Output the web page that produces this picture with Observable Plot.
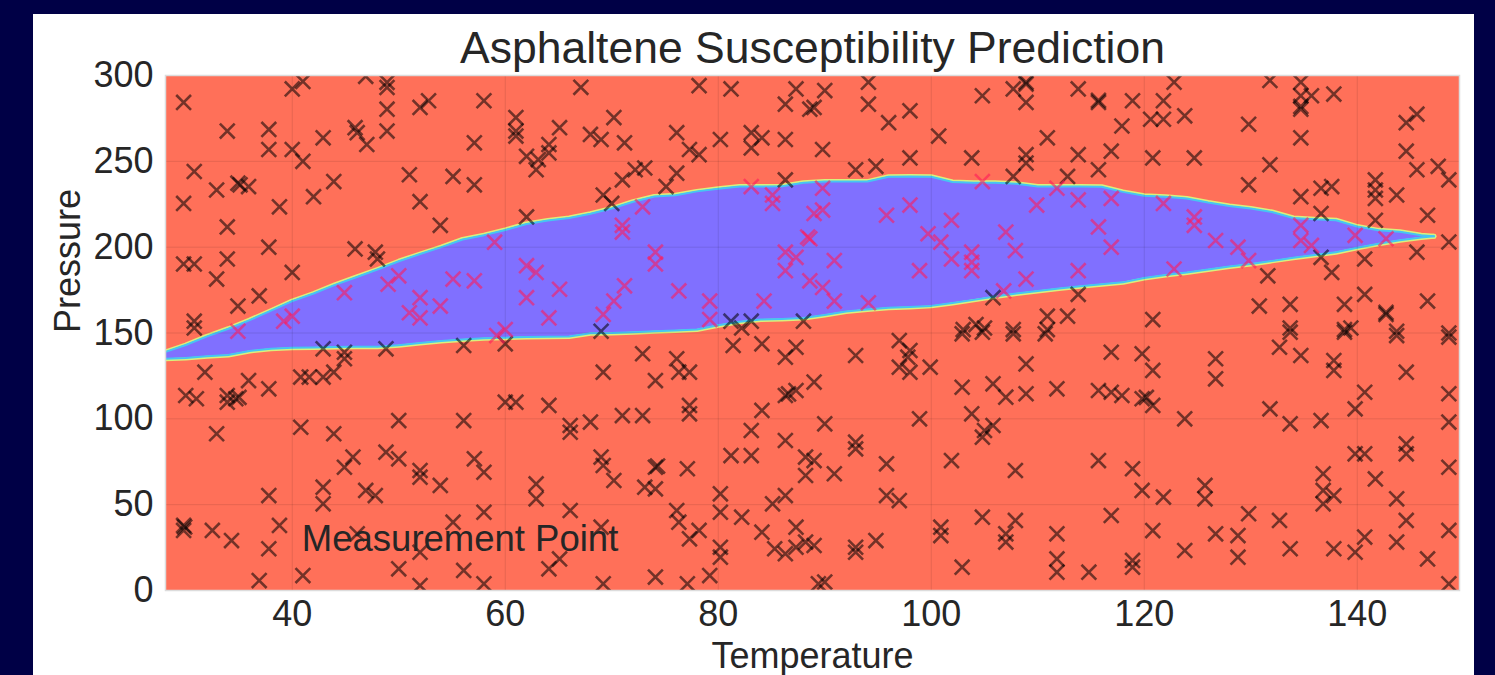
<!DOCTYPE html>
<html>
<head>
<meta charset="utf-8">
<script src="https://cdn.jsdelivr.net/npm/d3@7"></script>
<script src="https://cdn.jsdelivr.net/npm/@observablehq/plot@0.6"></script>
<style>
  html, body { margin: 0; padding: 0; background: #000046; width: 1495px; height: 675px; overflow: hidden; }
  #panel { position: absolute; left: 33px; top: 14px; width: 1441px; height: 661px; background: #ffffff; overflow: hidden; }
</style>
</head>
<body>
<div id="panel"></div>
<script>
const chartTitle = "Asphaltene Susceptibility Prediction";
const xLabel = "Temperature";
const yLabel = "Pressure";
const xTicks = [40, 60, 80, 100, 120, 140];
const yTicks = [0, 50, 100, 150, 200, 250, 300];
const xDomain = [28.1, 149.6];
const yDomain = [0, 300];

// decision boundary of the predicted "susceptible" region (temperature, upper pressure, lower pressure)
const boundaryT = [28.1,30,32,34,36,38,40,42,44,46,48,50,52,54,56,58,60,62,64,66,68,70,72,74,76,78,80,82,84,86,88,90,92,94,96,98,100,102,104,106,108,110,112,114,116,118,120,122,124,126,128,130,132,134,136,138,140,142,144,146,147.2];
const upperP = [139,143,148,152.5,157.5,163,168.6,173,178,182.5,187,191.8,196,200,204.5,207,210,213.5,215.5,217,219.5,222.5,226.5,229.5,230.2,232.5,234,235.3,235.3,235.5,237.5,238.2,238.2,238.2,241,241.2,241,238,237.5,237.5,237,235.3,235.3,235.3,235.2,232.2,230,229.4,228.4,226,224,222.5,220.5,217,216.2,215.7,212,209.8,209,207,206.3];
const lowerP = [135,135.5,136.4,137.2,139.5,140.8,141.4,141.6,141.8,142,142,142.8,144.2,145.4,146.2,147,147.3,147.6,147.8,148,149.8,150,150.5,151,151.5,152,154.5,156.5,157.8,158.2,158.7,160.5,162.5,163.7,164.7,165.2,165.8,167.5,169.3,171.3,173,174.5,175.9,177.2,178.4,179.5,182,183.8,185.2,187,188.7,190.2,192,193.8,195.4,197,199.6,202,204,205.6,206.3];

// measurement points outside the region [temperature, pressure]
const outsidePoints = [
[29.8,284.3],[40,292.2],[41,296.5],[46.9,299.5],[48.9,296],[48.9,293],[48.9,280.4],[48.9,267.6],[52,281.4],[52.8,285.3],[58,285.3],[67.1,293.1],[78.2,294.1],[81.2,292.2],[87.3,292.2],[86.3,283.3],[88.6,280.4],
[33.9,267.6],[37.8,268.6],[37.8,256.9],[40,256.9],[41,250],[42.9,263.7],[45.9,269.6],[46.1,266.7],[47,259.8],[57.1,260.8],[61,275.5],[61,267.6],[61,264.7],[65.1,269.6],[70.2,275.5],[68,265.7],[69,262.7],[71.2,260.8],[62,252.9],[63.1,251],[64.1,259.8],[64.1,254.9],[62.9,245.1],[76.1,266.7],[77.3,256.9],[78.2,253.9],[80.2,262.7],[83.1,266.7],[83.1,257.8],[84.1,263.7],[86.3,262.7],
[30.8,244.1],[32.9,233.3],[35.1,236.3],[35.9,235.3],[34.9,237.3],[29.8,225.5],[33.9,211.8],[38.8,223.5],[42,229.4],[43.9,238.2],[51,242.2],[52,226.5],[55.1,241.2],[57.1,236.3],[53.9,212.7],[62,217.6],[69.2,230.4],[70,225.5],[71,239.2],[72.2,245.1],[73.1,246.1],[76.1,243.1],[75.1,235.3],[86.3,239.2],
[37.8,200],[29.8,190.2],[30.8,190.2],[33.9,193.1],[32.9,181.4],[40,185.3],[36.9,171.6],[34.9,165.7],[30.8,156.9],[30.8,152.9],[45.9,199],[47.8,197.1],[48,193.1],
[81.2,156.9],[82.2,152.9],[83.1,156.9],[88,156.9],[69,151],
[90,291.2],[89,281.4],[94.1,296.1],[94.1,283.3],[96,272.5],[98,279.4],[104.8,288.2],[107.7,292.2],[108.9,296.1],[108.9,295],[108.9,284.3],[113.8,292.2],[115.7,284.3],[115.7,285.5],[118.9,285.3],[121.8,285.3],[122.8,296.1],[120.6,274.5],[121.8,274.5],[123.8,276.5],[117.9,270.6],[129.8,271.6],[131.8,297.1],[134.7,296.1],[134.7,288.2],[134.7,280.4],[134.7,282],[135.7,288.2],[137.8,289.2],[134.7,263.7],[144.6,272.5],[145.6,277.5],[144.6,255.9],[145.6,245.1],[147.6,247.1],[148.6,239.2],
[89.8,256.9],[92.9,245.1],[94.8,247.1],[98,252],[100.7,264.7],[103.8,252],[107.7,241.2],[108.9,253.9],[108.9,249],[110.9,263.7],[112.8,241.2],[113.8,253.9],[115.7,245.1],[116.9,255.9],[120.8,252],[124.7,252],[131.8,248],[129.8,236.3],[134.7,229.4],[136.6,234.3],[137.6,235.3],[141.7,239.2],[141.7,233.3],[141.7,228.4],[143.7,230.4],[146.6,218.6],[141.7,215.7],[136.6,219.6],
[113.8,172.5],[110.9,159.8],[112.8,159.8],[110.9,152],[107.7,152],[103,152],[104.2,154.9],[105,152.9],[120.8,157.8],[130.8,165.7],[133.7,166.7],[131.6,183.3],[133.7,152.9],[136.6,194.1],[137.6,185.3],[138.8,166.7],[140.7,172.5],[140.7,193.1],[142.7,160.8],[142.7,162],[145.6,197.1],[146.6,168.6],[148.6,203],[138.8,152],[139.4,152.9],[143.7,151],[148.6,150],[105.8,170.6],
[42.9,140.8],[44.9,138.8],[44.9,135],[48.8,140.8],[56.1,142.7],[60,143.7],[31.8,127.2],[30,113.6],[31,111.7],[33.9,113.6],[34.7,111.7],[35,112.5],[33.9,109.7],[35.9,122.3],[37.8,117.5],[40.8,124.3],[41.6,124.3],[42.9,124.3],[43.9,127.2],[32.9,91.3],[40.8,95.1],[43.9,91.3],[50,99],[56.1,99],[69.2,127.2],[72.9,137.9],[74.1,122.3],[76.1,135],[76.3,127.2],[77.3,127.2],[60,109.7],[61,109.7],[64.1,107.8],[71,101.9],[72.9,101.9],[77.3,107.8],[77.3,102.9],[66.1,96.1],[66.1,92.2],[68,98.1],[81.4,142.7],[84.1,143.7],[86.3,135.9],[87.3,141.7],[86.3,113.6],[86.6,114.5],[87.3,116.5],[84.1,104.9],[83.1,93.2],[86.3,87.4],[81.2,78.6],[83.1,78.6],[88.2,77.7],[88.2,67],
[45.7,77.7],[44.9,71.8],[48.8,80.6],[50,76.7],[52,69.9],[52,66],[53.9,61.2],[57.1,76.7],[58,68.9],[69,77.7],[69.2,72.8],[70.2,64.1],[74.1,71.8],[74.3,72.5],[73.1,60.2],[74.1,59.2],[77.1,70.9],[37.8,55.3],[42.9,60.2],[42.9,50.5],[46.9,58.3],[47.8,55.3],[62.9,62.1],[62.9,53.4],[58,45.6],[66.1,46.6],[80.2,56.3],[80.2,45.6],[82.2,42.7],[76.1,46.6],[76.3,39.8],[78.2,35],[77.3,30.1],[85.1,50.5],[86.3,55.3],[84.1,34],[87.3,36.9],[88.2,28.2],[85.3,24.3],[86.3,21.4],[87.3,25.2],[80.2,25.2],[80.2,19.4],[79.2,8.7],[77.1,3.9],[74.1,7.8],[69.2,3.9],[69,36.9],[64.1,12.6],[65.1,18.4],[56.1,11.7],[58,3.9],[52,2.9],[50,12.6],[52,22.3],[55.1,39.8],[46.1,33],[41,8.7],[36.9,5.8],[37.8,24.3],[38.8,37.9],[29.8,37.9],[29.9,37],[29.8,35],[32.5,35],[34.3,29.1],
[97,145.6],[98,139.8],[97.8,135.9],[97,130.1],[98,127.2],[99.9,130.1],[92.9,136.9],[89,121.4],[102.9,149.5],[104.8,150.5],[107.7,149.5],[110.7,149.5],[108.9,132],[102.9,118.4],[105.8,120.4],[107,112.6],[108.9,114.6],[111.8,117.5],[115.7,116.5],[116.9,115.5],[117.9,113.6],[119.8,111.7],[120.2,112.5],[120.8,107.8],[116.9,138.8],[119.8,137.9],[120.8,128.2],[126.7,135],[126.7,123.3],[123.8,100],[132.7,141.7],[134.7,136.9],[133.7,150.5],[137.8,134],[137.8,128.2],[138.8,150.5],[143.7,148.5],[148.6,147.6],[144.6,127.2],[140.7,115.5],[139.8,105.8],[148.6,114.6],[131.8,105.8],[133.7,97.1],[136.6,99],[148.6,98.1],[90,97.1],[98.9,100],[103.8,102.9],[105,93.2],[105.8,96.1],[104.8,89.3],[92.9,86.4],[92.9,82.5],[89,75.7],
[90.9,68],[95.8,73.8],[101.9,75.7],[107.9,69.9],[115.7,75.7],[118.9,70.9],[119.8,58.3],[121.8,54.4],[125.7,61.2],[125.7,53.4],[95.8,55.3],[97,52.4],[139.8,79.6],[140.7,79.6],[144.6,85.4],[144.6,79.6],[148.6,71.8],[141.7,65],[136.8,68],[136.8,58.3],[137.8,55.3],[136.8,50.5],[143.7,53.4],[144.6,40.8],[148.6,35],[140.7,31.1],[143.7,28.2],[137.8,24.3],[139.8,22.3],[146.6,18.4],[133.7,24.3],[132.7,40.8],[129.8,44.7],[128.8,32],[128.8,19.4],[126.7,33],[123.8,23.3],[120.8,34.9],[116.9,43.7],[118.9,17.5],[118.9,13.6],[114.8,10.7],[111.8,33],[111.8,18.4],[111.8,10.7],[107.9,40.8],[107,33],[107,28.2],[104.8,42.7],[100.9,36.9],[100.9,32],[102.9,13.6],[94.8,29.1],[92.9,25.2],[92.9,22.3],[89,26.2],[89.4,3.9],[90,4.9],[148.6,3.9]
];

// measurement points inside the region [temperature, pressure]
const insidePoints = [
[34.9,151],[39.2,156.9],[40,159.8],[44.9,173.5],[49,178.4],[50,183.3],[52,170.6],[51,161.8],[52,158.8],[53.9,165.7],[55.1,181.4],[57.1,180.4],[59,202.9],[62,189.2],[62.9,185.3],[62,170.6],[65.1,175.5],[64.1,158.8],[60,152],[71,212.7],[71,208.8],[72.9,223.5],[74.1,197.1],[74.1,190.2],[71.2,177.5],[70.2,168.6],[69.2,160.8],[76.3,174.5],[79.2,168.6],[79.2,157.8],[84.3,168.6],[86.3,197.1],[87.3,194.1],[86.3,186.3],[88.4,205.9],[88.6,180.4],[83.1,235.3],[85.1,230.4],[85.1,225.5],[59.2,148.5],
[89.8,234.3],[89,219.6],[89.8,221.6],[88.6,204.9],[90.9,192.2],[89.8,176.5],[90.9,168.6],[94.1,167.6],[95.8,218.6],[98,224.5],[99.7,207.8],[100.9,202.9],[101.9,215.7],[101.9,193.1],[98.9,186.3],[103.8,197.1],[103.8,191.2],[103.8,186.3],[104.8,238.2],[107,208.8],[107.9,198],[108.9,181.4],[106.8,174.5],[109.9,224.5],[111.8,234.3],[113.8,227.5],[113.8,186.3],[115.7,211.8],[116.9,228.4],[116.9,200],[121.8,225.5],[124.7,217.6],[124.7,212.7],[122.8,187.3],[126.7,203.9],[128.8,200],[129.8,192.2],[134.7,212.7],[134.7,203.9],[135.7,201],[139.8,206.9],[142.7,204.9]
];

const annotations = [{label: "Measurement Point", T: 40.9, P: 29.7}];

const boundary = boundaryT.map((t, i) => ({T: t, upper: upperP[i], lower: lowerP[i]}));

const font = "'Liberation Sans', Arial, Helvetica, sans-serif";

const chart = Plot.plot({
  width: 1441,
  height: 661,
  marginLeft: 132,
  marginRight: 15,
  marginTop: 61,
  marginBottom: 85,
  style: {fontFamily: font, fontSize: "36px", color: "#262626", background: "transparent", overflow: "visible"},
  x: {domain: xDomain},
  y: {domain: yDomain},
  marks: [
    Plot.frame({fill: "#ff7059", stroke: null}),
    Plot.line(boundary, {x: "T", y: "upper", stroke: "#d9f07c", strokeWidth: 5, clip: true}),
    Plot.line(boundary, {x: "T", y: "lower", stroke: "#d9f07c", strokeWidth: 5, clip: true}),
    Plot.areaY(boundary, {x: "T", y1: "lower", y2: "upper", fill: "#8070ff", clip: true}),
    Plot.line(boundary, {x: "T", y: "upper", stroke: "#45c6f2", strokeWidth: 2, clip: true}),
    Plot.line(boundary, {x: "T", y: "lower", stroke: "#45c6f2", strokeWidth: 2, clip: true}),
    Plot.gridX(xTicks, {stroke: "#000", strokeOpacity: 0.1, strokeWidth: 1}),
    Plot.gridY(yTicks, {stroke: "#000", strokeOpacity: 0.1, strokeWidth: 1}),
    Plot.dot(outsidePoints, {x: d => d[0], y: d => d[1], symbol: "times", r: 6.8, stroke: "#000", strokeOpacity: 0.55, strokeWidth: 2.6, clip: true}),
    Plot.dot(insidePoints, {x: d => d[0], y: d => d[1], symbol: "times", r: 6.8, stroke: "#ff1a5a", strokeOpacity: 0.6, strokeWidth: 2.6, clip: true}),
    Plot.text(annotations, {x: "T", y: "P", text: "label", textAnchor: "start", lineAnchor: "middle", fontSize: 36.5, fill: "#262626"}),
    Plot.frame({stroke: "#dcdcdc", strokeWidth: 1.5}),
    Plot.axisX(xTicks, {tickSize: 0, tickPadding: 10, label: null, fontSize: 36, fill: "#262626"}),
    Plot.axisY(yTicks, {tickSize: 0, tickPadding: 12, label: null, fontSize: 36, fill: "#262626"}),
    Plot.text([xLabel], {frameAnchor: "bottom", dy: 66, text: d => d, lineAnchor: "middle", fontSize: 36, fill: "#262626"}),
    Plot.text([yLabel], {frameAnchor: "left", dx: -97, rotate: -90, text: d => d, lineAnchor: "middle", fontSize: 36, fill: "#262626"}),
    Plot.text([chartTitle], {frameAnchor: "top", dy: -27, text: d => d, lineAnchor: "middle", fontSize: 44.5, fill: "#262626"})
  ]
});
document.getElementById("panel").appendChild(chart);
</script>
</body>
</html>
